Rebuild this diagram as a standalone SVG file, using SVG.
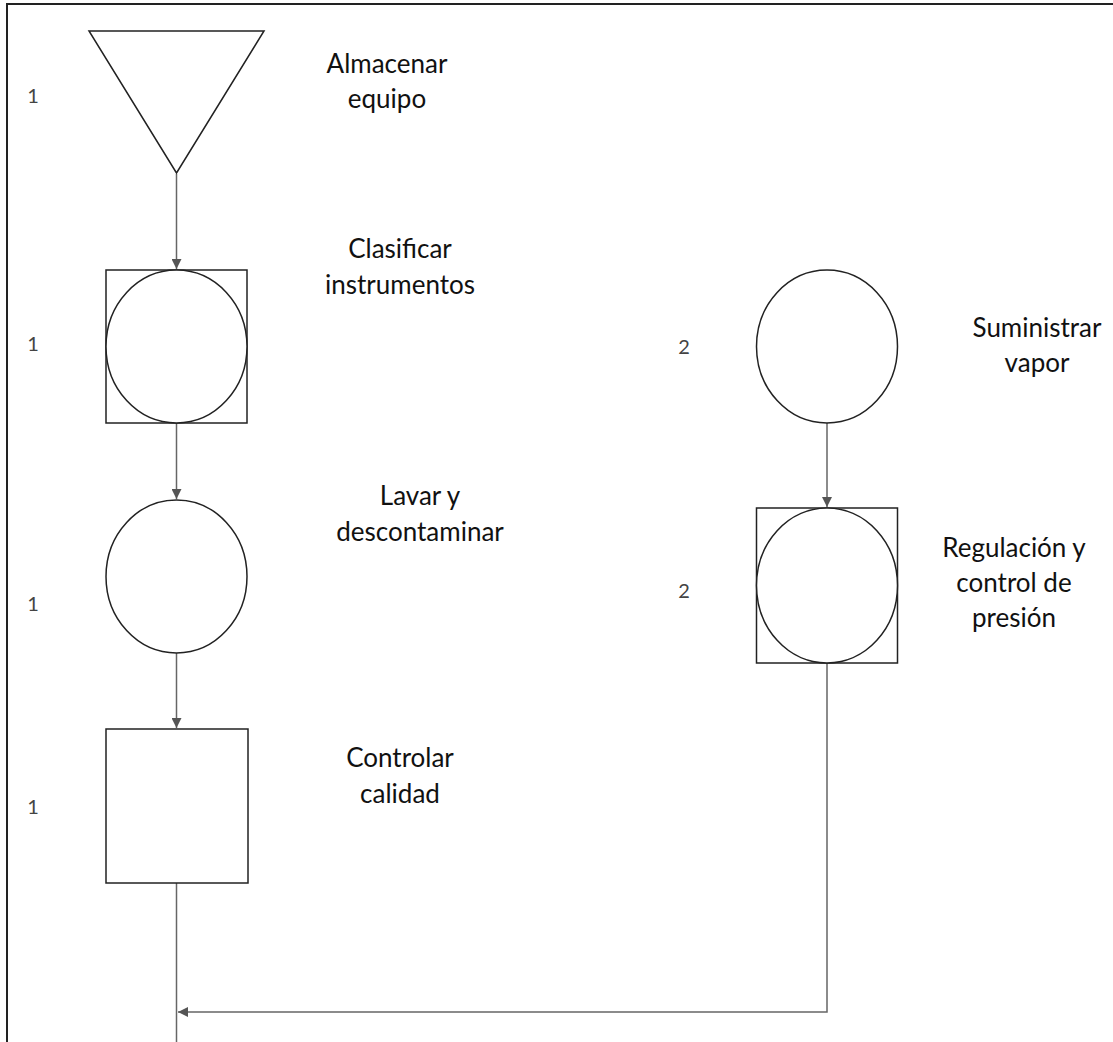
<svg xmlns="http://www.w3.org/2000/svg" width="1113" height="1042" viewBox="0 0 1113 1042">
  <style>
    .shape { fill: #ffffff; stroke: #222222; stroke-width: 1.5; }
    .link { fill: none; stroke: #666666; stroke-width: 1.5; }
    .label { font-family: Lato, "Open Sans", sans-serif; font-size: 26px; fill: #111111; text-anchor: middle; }
    .num { font-family: Lato, "Open Sans", sans-serif; font-size: 20px; fill: #444444; text-anchor: middle; }
  </style>
  <defs>
    <marker id="arrow" viewBox="0 0 10 10" refX="10" refY="5" markerWidth="10" markerHeight="10" markerUnits="userSpaceOnUse" orient="auto">
      <path d="M0,0 L10,5 L0,10 Z" fill="#555555"/>
    </marker>
  </defs>

  <rect width="1113" height="1042" fill="#ffffff"/>
  <!-- frame -->
  <path d="M7,1042 V4 H1113" fill="none" stroke="#222222" stroke-width="2"/>

  <!-- connectors -->
  <g id="connectors">
    <path class="link" d="M176.5,174 V269" marker-end="url(#arrow)"/>
    <path class="link" d="M176.5,423 V499" marker-end="url(#arrow)"/>
    <path class="link" d="M176.5,653 V728" marker-end="url(#arrow)"/>
    <path class="link" d="M176.5,883 V1042"/>
    <path class="link" d="M827,423 V507" marker-end="url(#arrow)"/>
    <path class="link" d="M827,663 V1012 H178" marker-end="url(#arrow)"/>
  </g>

  <!-- storage: Almacenar equipo -->
  <g id="almacenar">
    <polygon class="shape" points="89,31 264,31 176.5,173"/>
    <text class="num" x="33" y="103">1</text>
    <text class="label" x="387" y="73">Almacenar</text>
    <text class="label" x="387" y="108">equipo</text>
  </g>

  <!-- combined operation/inspection: Clasificar instrumentos -->
  <g id="clasificar">
    <rect class="shape" x="106" y="270" width="141" height="153"/>
    <ellipse class="shape" cx="176.5" cy="346.5" rx="70.5" ry="76.5"/>
    <text class="num" x="33" y="351">1</text>
    <text class="label" x="400" y="258">Clasificar</text>
    <text class="label" x="400" y="294">instrumentos</text>
  </g>

  <!-- operation: Lavar y descontaminar -->
  <g id="lavar">
    <ellipse class="shape" cx="176.5" cy="576.5" rx="70.5" ry="76.5"/>
    <text class="num" x="33" y="611">1</text>
    <text class="label" x="420" y="505">Lavar y</text>
    <text class="label" x="420" y="541">descontaminar</text>
  </g>

  <!-- inspection: Controlar calidad -->
  <g id="controlar">
    <rect class="shape" x="106" y="729" width="142" height="154"/>
    <text class="num" x="33" y="814">1</text>
    <text class="label" x="400" y="767">Controlar</text>
    <text class="label" x="400" y="803">calidad</text>
  </g>

  <!-- operation: Suministrar vapor -->
  <g id="suministrar">
    <ellipse class="shape" cx="827" cy="346.5" rx="70.5" ry="76.5"/>
    <text class="num" x="684" y="354">2</text>
    <text class="label" x="1037" y="337">Suministrar</text>
    <text class="label" x="1037" y="372">vapor</text>
  </g>

  <!-- combined operation/inspection: Regulación y control de presión -->
  <g id="regulacion">
    <rect class="shape" x="756.5" y="508" width="141" height="155"/>
    <ellipse class="shape" cx="827" cy="585.5" rx="70.5" ry="77.5"/>
    <text class="num" x="684" y="598">2</text>
    <text class="label" x="1014" y="557">Regulación y</text>
    <text class="label" x="1014" y="592">control de</text>
    <text class="label" x="1014" y="627">presión</text>
  </g>
</svg>
